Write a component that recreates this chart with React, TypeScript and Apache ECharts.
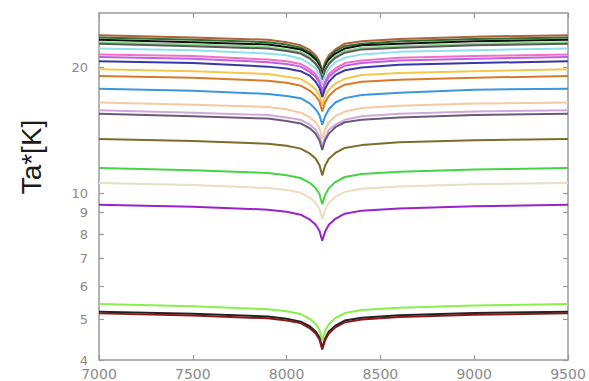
import React, { useEffect, useRef } from "react";
import * as echarts from "echarts";

// x positions (channel / velocity axis)
const xs = [7000, 7500, 7900, 8000, 8075, 8125, 8155, 8175, 8190, 8205, 8225, 8260, 8310, 8400, 8600, 9000, 9500];

const yTicks = [4, 5, 6, 7, 8, 9, 10, 20];
const xTicks = [7000, 7500, 8000, 8500, 9000, 9500];

const s1 = [23.9, 23.6, 23.3, 23.0, 22.6, 22.0, 21.4, 20.7, 19.6, 20.6, 21.4, 22.1, 22.8, 23.1, 23.4, 23.7, 23.9];
const s2 = [23.6, 23.3, 23.0, 22.7, 22.3, 21.7, 21.1, 20.5, 19.4, 20.3, 21.1, 21.9, 22.5, 22.8, 23.1, 23.4, 23.6];
const s3 = [23.3, 23.0, 22.7, 22.4, 22.1, 21.5, 20.9, 20.2, 19.1, 20.1, 20.9, 21.6, 22.2, 22.6, 22.8, 23.1, 23.3];
const s4 = [23.0, 22.7, 22.4, 22.1, 21.8, 21.2, 20.6, 19.9, 18.9, 19.8, 20.6, 21.3, 21.9, 22.3, 22.5, 22.8, 23.0];
const s5 = [22.8, 22.5, 22.2, 21.9, 21.6, 21.0, 20.4, 19.8, 18.7, 19.7, 20.4, 21.1, 21.7, 22.1, 22.3, 22.6, 22.8];
const s6 = [22.2, 22.0, 21.6, 21.4, 21.0, 20.4, 19.9, 19.2, 18.2, 19.1, 19.9, 20.6, 21.1, 21.5, 21.8, 22.0, 22.2];
const s7 = [21.5, 21.3, 20.9, 20.7, 20.4, 19.8, 19.3, 18.6, 17.6, 18.5, 19.3, 19.9, 20.5, 20.8, 21.1, 21.3, 21.5];
const s8 = [21.2, 21.0, 20.6, 20.4, 20.1, 19.5, 19.0, 18.4, 17.4, 18.3, 19.0, 19.6, 20.2, 20.5, 20.8, 21.0, 21.2];
const s9 = [20.7, 20.5, 20.1, 19.9, 19.6, 19.1, 18.5, 17.9, 17.0, 17.8, 18.5, 19.2, 19.7, 20.0, 20.3, 20.5, 20.7];
const s10 = [19.8, 19.6, 19.3, 19.0, 18.8, 18.2, 17.7, 17.2, 16.2, 17.1, 17.7, 18.3, 18.8, 19.2, 19.4, 19.6, 19.8];
const s11 = [19.1, 18.9, 18.6, 18.4, 18.1, 17.6, 17.1, 16.6, 15.7, 16.5, 17.1, 17.7, 18.2, 18.5, 18.7, 18.9, 19.1];
const s12 = [17.8, 17.6, 17.3, 17.1, 16.9, 16.4, 15.9, 15.4, 14.6, 15.3, 15.9, 16.5, 16.9, 17.2, 17.4, 17.7, 17.8];
const s13 = [16.5, 16.3, 16.1, 15.9, 15.6, 15.2, 14.8, 14.3, 13.5, 14.2, 14.8, 15.3, 15.7, 16.0, 16.2, 16.4, 16.5];
const s14 = [15.8, 15.6, 15.4, 15.2, 15.0, 14.6, 14.2, 13.7, 13.0, 13.6, 14.2, 14.6, 15.0, 15.3, 15.5, 15.7, 15.8];
const s15 = [15.5, 15.3, 15.1, 14.9, 14.7, 14.3, 13.9, 13.4, 12.7, 13.4, 13.9, 14.4, 14.8, 15.0, 15.2, 15.4, 15.5];
const s16 = [13.5, 13.35, 13.15, 13.0, 12.8, 12.45, 12.1, 11.7, 11.05, 11.65, 12.1, 12.5, 12.85, 13.05, 13.25, 13.4, 13.5];
const s17 = [11.5, 11.37, 11.19, 11.06, 10.89, 10.59, 10.3, 9.97, 9.43, 9.91, 10.3, 10.65, 10.95, 11.13, 11.27, 11.41, 11.5];
const s18 = [10.6, 10.48, 10.31, 10.2, 10.04, 9.76, 9.5, 9.19, 8.69, 9.14, 9.5, 9.82, 10.09, 10.26, 10.39, 10.52, 10.6];
const s19 = [9.4, 9.3, 9.15, 9.04, 8.9, 8.66, 8.42, 8.15, 7.71, 8.1, 8.42, 8.7, 8.95, 9.1, 9.21, 9.32, 9.4];
const s20 = [5.44, 5.38, 5.29, 5.23, 5.15, 5.01, 4.87, 4.72, 4.46, 4.69, 4.87, 5.04, 5.18, 5.27, 5.33, 5.4, 5.44];
const s21 = [5.22, 5.16, 5.08, 5.02, 4.94, 4.81, 4.68, 4.53, 4.28, 4.5, 4.68, 4.83, 4.97, 5.05, 5.12, 5.18, 5.22];
const s22 = [5.17, 5.11, 5.03, 4.97, 4.9, 4.76, 4.63, 4.48, 4.24, 4.46, 4.63, 4.79, 4.92, 5.0, 5.07, 5.13, 5.17];

const seriesValues = [s1, s2, s3, s4, s5, s6, s7, s8, s9, s10, s11, s12, s13, s14, s15, s16, s17, s18, s19, s20, s21, s22];
const seriesColors = [
  "#b0603a", "#2f6f2f", "#111111", "#8fd88f", "#5a5a5a", "#8ee0ec", "#f070c8", "#c060e0",
  "#3838a8", "#f2c84a", "#d77a2a", "#3a96e0", "#f6caa0", "#d0a8dc", "#6a5a7a", "#7d6c28",
  "#44d444", "#ecdcc0", "#9a22c8", "#88f048", "#222222", "#8a1a1a",
];

const Y_MIN = 4;
const Y_MAX = 27;

export default function App() {
  const ref = useRef<HTMLDivElement>(null);
  useEffect(() => {
    if (!ref.current) return;
    const chart = echarts.init(ref.current, undefined, { renderer: "svg" });
    const lg = (v: number) => Math.log10(v);
    const tickLog = yTicks.map(lg);
    const labelColor = "#8a8a8a";
    const frameColor = "#9a9a9a";
    const option: any = {
      animation: false,
      backgroundColor: "#ffffff",
      grid: {
        left: 99, right: 21, top: 13, bottom: 19,
        show: true, borderColor: frameColor, borderWidth: 1.5, backgroundColor: "transparent",
      },
      xAxis: [
        {
          type: "value", min: 7000, max: 9500, interval: 500, position: "bottom",
          axisLine: { show: false },
          axisTick: { show: true, inside: true, length: 5, lineStyle: { color: frameColor, width: 1.2 } },
          axisLabel: {
            show: true, margin: 7, color: labelColor, fontSize: 14, fontFamily: "DejaVu Sans",
            formatter: (v: number) => String(v),
          },
          splitLine: { show: false },
        },
        {
          type: "value", min: 7000, max: 9500, interval: 500, position: "top",
          axisLine: { show: false },
          axisTick: { show: true, inside: true, length: 5, lineStyle: { color: frameColor, width: 1.2 } },
          axisLabel: { show: false },
          splitLine: { show: false },
        },
      ],
      yAxis: [
        {
          type: "value", min: lg(Y_MIN), max: lg(Y_MAX), position: "left",
          axisLine: { show: false },
          axisTick: { show: true, inside: true, length: 5, customValues: tickLog, lineStyle: { color: frameColor, width: 1.2 } },
          axisLabel: {
            show: true, margin: 11, color: labelColor, fontSize: 13, fontFamily: "DejaVu Sans",
            customValues: tickLog,
            formatter: (v: number) => String(Math.round(Math.pow(10, v))),
          },
          splitLine: { show: false },
        },
        {
          type: "value", min: lg(Y_MIN), max: lg(Y_MAX), position: "right",
          axisLine: { show: false },
          axisTick: { show: true, inside: true, length: 5, customValues: tickLog, lineStyle: { color: frameColor, width: 1.2 } },
          axisLabel: { show: false },
          splitLine: { show: false },
        },
      ],
      graphic: [
        {
          type: "text", x: 31, y: 157, rotation: Math.PI / 2,
          style: {
            text: "Ta*[K]", font: "28px 'Liberation Sans'", fill: "#1a1a1a",
            align: "center", verticalAlign: "middle",
          },
        },
      ],
      series: seriesValues.map((vals, k) => ({
        type: "line",
        xAxisIndex: 0,
        yAxisIndex: 0,
        showSymbol: false,
        symbol: "none",
        smooth: false,
        lineStyle: { width: 2, color: seriesColors[k] },
        itemStyle: { color: seriesColors[k] },
        data: xs.map((x, i) => [x, lg(vals[i])]),
      })),
    };
    chart.setOption(option);
    return () => chart.dispose();
  }, []);
  return (
    <div
      ref={ref}
      style={{ position: "fixed", left: 0, top: 0, width: 589, height: 381, background: "#fff" }}
    />
  );
}
